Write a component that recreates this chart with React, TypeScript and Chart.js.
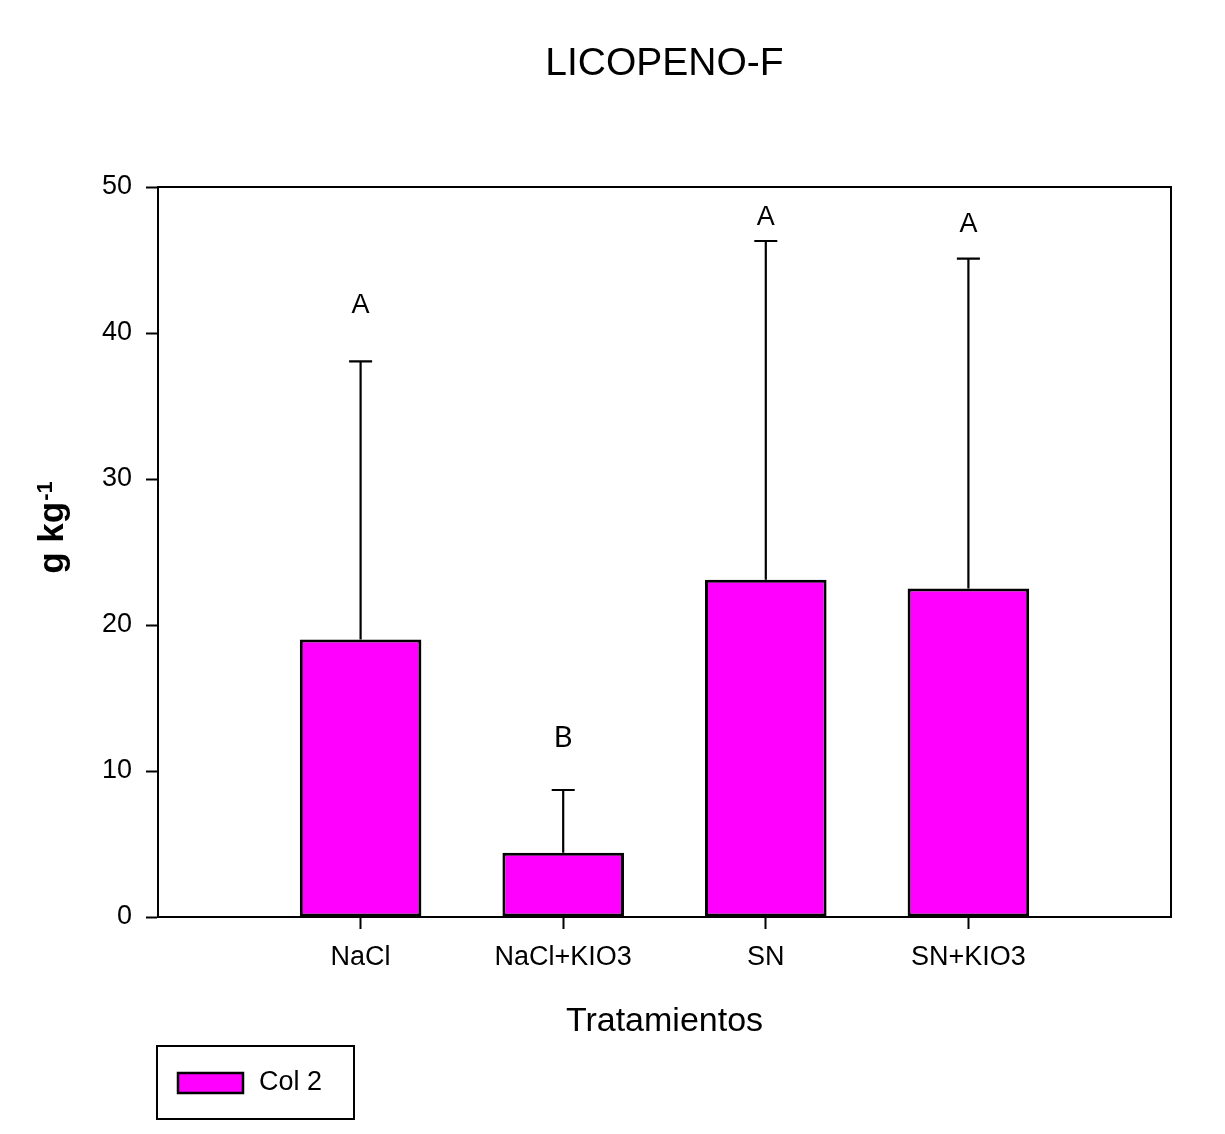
import React, { useEffect, useRef } from 'react';
import { Chart, registerables } from 'chart.js';

Chart.register(...registerables);

const chartTitle = 'LICOPENO-F';
const xAxisTitle = 'Tratamientos';
const yAxisTitleMain = 'g kg';
const yAxisTitleSup = '-1';
const legendLabel = 'Col 2';

const categories = ['NaCl', 'NaCl+KIO3', 'SN', 'SN+KIO3'];
const means = [19.0, 4.4, 23.1, 22.5];
const errors = [19.05, 4.3, 23.2, 22.6];
const letters = ['A', 'B', 'A', 'A'];
const letterValues = [41.9, 12.3, 47.9, 47.4];

const yMin = 0;
const yMax = 50;
const yStep = 10;

const BAR_COLOR = '#FF00FF';
const SANS = '"Liberation Sans", Arial, sans-serif';

const annotPlugin = {
  id: 'annot',
  afterDatasetsDraw(chart: any) {
    const { ctx, chartArea: a, scales } = chart;
    const x = scales.x;
    const y = scales.y;
    ctx.save();
    ctx.strokeStyle = '#000';
    ctx.lineWidth = 2;
    ctx.strokeRect(a.left, a.top, a.right - a.left, a.bottom - a.top);

    // error bars (upper only)
    ctx.lineWidth = 2.2;
    means.forEach((m, i) => {
      const px = x.getPixelForValue(i + 1);
      const y0 = y.getPixelForValue(m);
      const y1 = y.getPixelForValue(m + errors[i]);
      ctx.beginPath();
      ctx.moveTo(px, y0);
      ctx.lineTo(px, y1);
      ctx.moveTo(px - 11.5, y1);
      ctx.lineTo(px + 11.5, y1);
      ctx.stroke();
    });

    // significance letters
    ctx.fillStyle = '#000';
    ctx.textAlign = 'center';
    ctx.textBaseline = 'middle';
    letters.forEach((l, i) => {
      const px = x.getPixelForValue(i + 1);
      const py = y.getPixelForValue(letterValues[i]);
      ctx.font = l === 'B' ? '29px Lato, "Open Sans", sans-serif' : `27px ${SANS}`;
      ctx.fillText(l, px, py);
    });
    ctx.restore();
  },
  afterDraw(chart: any) {
    const { ctx, chartArea: a } = chart;
    const cx = (a.left + a.right) / 2;
    ctx.save();
    ctx.fillStyle = '#000';

    // chart title
    ctx.textAlign = 'center';
    ctx.textBaseline = 'alphabetic';
    ctx.font = `39px ${SANS}`;
    ctx.fillText(chartTitle, cx, 75);

    // x axis title
    ctx.font = `34px ${SANS}`;
    ctx.fillText(xAxisTitle, cx, 1031);

    // y axis title with superscript
    ctx.font = `bold 35px ${SANS}`;
    const w1 = ctx.measureText(yAxisTitleMain).width;
    ctx.font = `bold 22px ${SANS}`;
    const w2 = ctx.measureText(yAxisTitleSup).width;
    const total = w1 + w2;
    const centerY = 528;
    ctx.translate(63, centerY + total / 2);
    ctx.rotate(-Math.PI / 2);
    ctx.textAlign = 'left';
    ctx.font = `bold 35px ${SANS}`;
    ctx.fillText(yAxisTitleMain, 0, 0);
    ctx.font = `bold 22px ${SANS}`;
    ctx.fillText(yAxisTitleSup, w1 + 1, -11);
    ctx.setTransform(1, 0, 0, 1, 0, 0);

    // legend
    ctx.strokeStyle = '#000';
    ctx.lineWidth = 2;
    ctx.strokeRect(157, 1046, 197, 73);
    ctx.fillStyle = BAR_COLOR;
    ctx.fillRect(178, 1073, 65, 20);
    ctx.lineWidth = 2.5;
    ctx.strokeRect(178, 1073, 65, 20);
    ctx.fillStyle = '#000';
    ctx.textAlign = 'left';
    ctx.textBaseline = 'middle';
    ctx.font = `27px ${SANS}`;
    ctx.fillText(legendLabel, 259, 1083);
    ctx.restore();
  },
};

export default function App() {
  const canvasRef = useRef<HTMLCanvasElement | null>(null);

  useEffect(() => {
    if (!canvasRef.current) return;
    const labels = ['', ...categories, ''];
    const data = [null, ...means, null];
    const chart = new Chart(canvasRef.current, {
      type: 'bar',
      data: {
        labels,
        datasets: [
          {
            label: legendLabel,
            data: data as any,
            backgroundColor: BAR_COLOR,
            borderColor: '#000',
            borderWidth: 3,
            borderSkipped: false,
            barPercentage: 0.6,
            categoryPercentage: 1.0,
          },
        ],
      },
      options: {
        responsive: false,
        animation: false,
        layout: { padding: { top: 187, right: 54, bottom: 0, left: 0 } },
        plugins: {
          legend: { display: false },
          title: { display: false },
          tooltip: { enabled: false },
        },
        scales: {
          x: {
            type: 'category',
            offset: false,
            grid: {
              offset: false,
              drawOnChartArea: false,
              drawTicks: true,
              tickLength: 12,
              tickWidth: 2,
              tickColor: (c: any) => (c.index === 0 || c.index === labels.length - 1 ? 'rgba(0,0,0,0)' : '#000'),
            },
            border: { display: true, color: '#000', width: 2 },
            ticks: {
              color: '#000',
              padding: 12,
              maxRotation: 0,
              autoSkip: false,
              font: { family: SANS, size: 27 },
            },
            afterFit: (scale: any) => {
              scale.height = 217;
            },
          },
          y: {
            min: yMin,
            max: yMax,
            grid: {
              drawOnChartArea: false,
              drawTicks: true,
              tickLength: 12,
              tickWidth: 2,
              tickColor: '#000',
            },
            border: { display: true, color: '#000', width: 2 },
            ticks: {
              stepSize: yStep,
              color: '#000',
              padding: 14,
              font: { family: SANS, size: 27 },
            },
            afterFit: (scale: any) => {
              scale.width = 158;
            },
          },
        },
      },
      plugins: [annotPlugin],
    });
    return () => chart.destroy();
  }, []);

  return (
    <div style={{ position: 'absolute', left: 0, top: 0, width: 1225, height: 1134, background: '#fff' }}>
      <canvas ref={canvasRef} width={1225} height={1134} style={{ display: 'block' }} />
    </div>
  );
}
